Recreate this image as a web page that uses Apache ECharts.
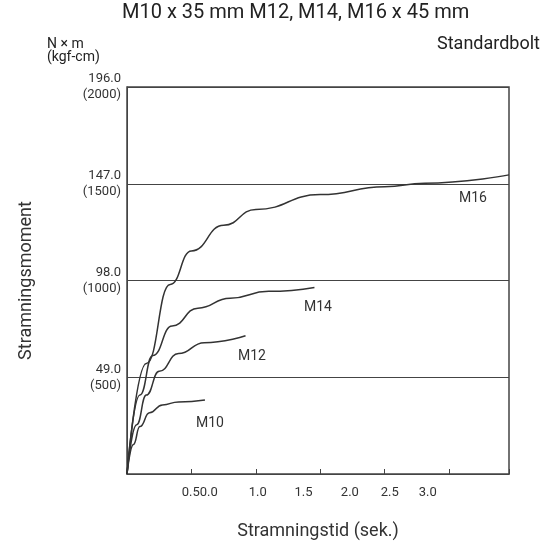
<!DOCTYPE html>
<html><head><meta charset="utf-8">
<script src="https://cdn.jsdelivr.net/npm/echarts@6/dist/echarts.min.js"></script>
<style>html,body{margin:0;background:#fff}#c{width:548px;height:545px}</style>
</head><body><div id="c"></div>
<script>
// x in tick units (0.50.0 tick = 1), y in N x m
const m10 = [[0,0],[0.1,15],[0.2,24],[0.35,31],[0.55,35],[0.8,36.5],[1.21,37.5]];
const m12 = [[0,0],[0.15,25],[0.3,40],[0.5,52],[0.8,61],[1.2,66.5],[1.84,70]];
const m14 = [[0,0],[0.2,40],[0.4,60],[0.7,75],[1.1,84],[1.6,89],[2.2,92.5],[2.91,94.5]];
const m16 = [[0,0],[0.3,56],[0.67,96],[1,113],[1.5,126],[2,134],[3,141.5],[4,145.5],[4.62,147.3],[5.93,151.5]];
const xLabels = ['0.50.0','1.0','1.5','2.0','2.5','3.0'];
const xLabelPos = [1.13,2.03,2.74,3.46,4.08,4.67];
const yLabels = {49:'49.0\n(500)',98:'98.0\n(1000)',147:'147.0\n(1500)',196:'196.0\n(2000)'};

const chart = echarts.init(document.getElementById('c'));
const lbl = {fontFamily:'Roboto',color:'#333',fontSize:13};
const line = (d) => ({type:'line',data:d,smooth:0.5,smoothMonotone:'x',symbol:'none',lineStyle:{color:'#333',width:1.5}});
chart.setOption({
  animation:false,
  grid:{left:127,right:39,top:87,bottom:66,show:true,borderColor:'#444',borderWidth:1.5},
  xAxis:[
    {type:'value',min:0,max:5.93,interval:1,axisLine:{lineStyle:{color:'#444'}},
     axisTick:{inside:true,length:5,lineStyle:{color:'#444'}},axisLabel:{show:false},splitLine:{show:false},
     name:'Stramningstid (sek.)',nameLocation:'middle',nameGap:48,nameTextStyle:{fontFamily:'Roboto',fontSize:18,color:'#333'}},
    {type:'value',min:0,max:5.93,position:'bottom',axisLine:{show:false},axisTick:{show:false},splitLine:{show:false},
     axisLabel:Object.assign({customValues:xLabelPos,formatter:(v)=>xLabels[xLabelPos.indexOf(v)]||'',margin:12},lbl)}
  ],
  yAxis:{type:'value',min:0,max:196,interval:49,axisLine:{show:true,lineStyle:{color:'#444'}},axisTick:{show:false},
    splitLine:{lineStyle:{color:'#444',width:1.2}},
    axisLabel:Object.assign({formatter:(v)=>yLabels[v]||'',lineHeight:16,margin:6},lbl),
    name:'Stramningsmoment',nameLocation:'middle',nameGap:92,nameTextStyle:{fontFamily:'Roboto',fontSize:18,color:'#333'}},
  series:[line(m10),line(m12),line(m14),line(m16)],
  graphic:[
    {type:'text',left:122,top:3,style:{text:'M10 x 35 mm M12, M14, M16 x 45 mm',font:'20px Roboto',fill:'#222'}},
    {type:'text',right:8,top:35,style:{text:'Standardbolt',font:'18px Roboto',fill:'#222'}},
    {type:'text',left:47,top:37,style:{text:'N × m\n(kgf-cm)',font:'14px Roboto',fill:'#222',align:'center',lineHeight:13}},
    {type:'text',left:459,top:191,style:{text:'M16',font:'14px Roboto',fill:'#333'}},
    {type:'text',left:304,top:300,style:{text:'M14',font:'14px Roboto',fill:'#333'}},
    {type:'text',left:238,top:349,style:{text:'M12',font:'14px Roboto',fill:'#333'}},
    {type:'text',left:196,top:416,style:{text:'M10',font:'14px Roboto',fill:'#333'}}
  ]
});
</script></body></html>
